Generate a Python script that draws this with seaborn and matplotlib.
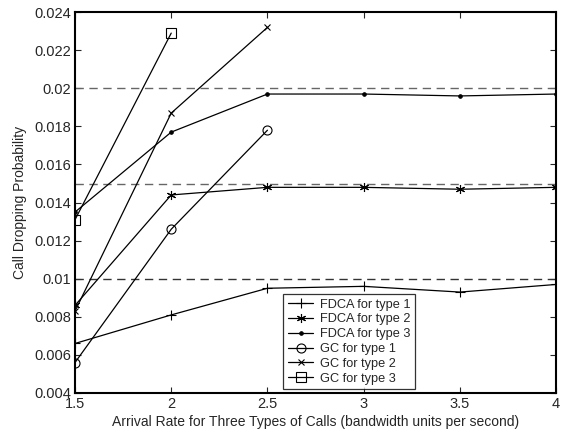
import pandas as pd
import matplotlib
matplotlib.use("Agg")
import matplotlib.pyplot as plt
import seaborn as sns

# Data
rates = [1.5, 2, 2.5, 3, 3.5, 4]
fdca_type1 = [0.0066, 0.0081, 0.0095, 0.0096, 0.0093, 0.0097]
fdca_type2 = [0.0086, 0.0144, 0.0148, 0.0148, 0.0147, 0.0148]
fdca_type3 = [0.0135, 0.0177, 0.0197, 0.0197, 0.0196, 0.0197]
gc_rates = [1.5, 2, 2.5]
gc_type1 = [0.0056, 0.0126, 0.0178]
gc_type2 = [0.0083, 0.0187, 0.0232]
gc3_rates = [1.5, 2]
gc_type3 = [0.0131, 0.0229]
thresholds = [0.01, 0.015, 0.02]

sns.set_style("ticks")
plt.rcParams['font.family'] = ['Liberation Sans', 'DejaVu Sans']

fig = plt.figure(figsize=(5.64, 4.34), dpi=100)
ax = fig.add_axes([0.133, 0.0945, 0.853, 0.8775])

# dashed threshold lines
for t, c in zip(thresholds, ['#333333', '#666666', '#666666']):
    ax.axhline(t, color=c, linestyle=(0, (6, 4)), linewidth=1.0, zorder=1)

series = [
    ("FDCA for type 1", rates, fdca_type1, '+', 7.5, 'k'),
    ("FDCA for type 2", rates, fdca_type2, (6, 2, 0), 6.5, 'k'),
    ("FDCA for type 3", rates, fdca_type3, '.', 5, 'k'),
    ("GC for type 1", gc_rates, gc_type1, 'o', 6.5, 'none'),
    ("GC for type 2", gc_rates, gc_type2, 'x', 4.5, 'k'),
    ("GC for type 3", gc3_rates, gc_type3, 's', 6.5, 'none'),
]

for label, xs, ys, m, ms, fc in series:
    df = pd.DataFrame({'x': xs, 'y': ys})
    sns.lineplot(data=df, x='x', y='y', ax=ax, color='k', linewidth=0.9,
                 marker=m, markersize=ms, markerfacecolor=fc,
                 markeredgecolor='k', markeredgewidth=0.8, label=label, zorder=3)

ax.set_xlim(1.5, 4)
ax.set_ylim(0.004, 0.024)
ax.set_xticks([1.5, 2, 2.5, 3, 3.5, 4])
ax.set_xticklabels(['1.5', '2', '2.5', '3', '3.5', '4'])
ax.set_yticks([0.004, 0.006, 0.008, 0.01, 0.012, 0.014, 0.016, 0.018, 0.02, 0.022, 0.024])
ax.set_yticklabels(['0.004', '0.006', '0.008', '0.01', '0.012', '0.014', '0.016',
                    '0.018', '0.02', '0.022', '0.024'])
ax.tick_params(direction='in', length=4, labelsize=10.5, top=True, right=True, width=0.8, pad=3)
for s in ax.spines.values():
    s.set_visible(True)
    s.set_linewidth(1.5)
    s.set_color('k')

ax.set_xlabel("Arrival Rate for Three Types of Calls (bandwidth units per second)", fontsize=10, labelpad=3)
ax.set_ylabel("Call Dropping Probability", fontsize=10, labelpad=5)

leg = ax.legend(loc='lower left', bbox_to_anchor=(0.433, 0.01), frameon=True, fancybox=False,
                edgecolor='k', fontsize=9.2, handlelength=2.0, labelspacing=0.22,
                borderpad=0.35, handletextpad=0.5, borderaxespad=0)
leg.get_frame().set_linewidth(0.9)

fig.savefig("out.png", dpi=100)
